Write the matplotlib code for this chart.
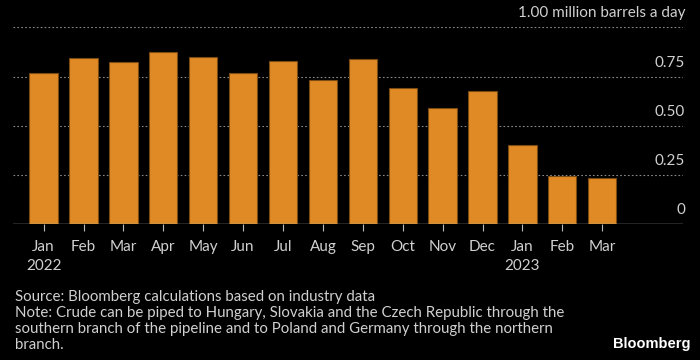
import matplotlib
matplotlib.use("Agg")
import matplotlib.pyplot as plt

months = ["Jan", "Feb", "Mar", "Apr", "May", "Jun", "Jul", "Aug", "Sep",
          "Oct", "Nov", "Dec", "Jan", "Feb", "Mar"]
years = {0: "2022", 12: "2023"}
flows = [0.766, 0.843, 0.824, 0.873, 0.848, 0.768, 0.829, 0.732, 0.838,
         0.690, 0.589, 0.678, 0.402, 0.245, 0.237]
yticks = [0, 0.25, 0.50, 0.75, 1.00]
ytick_labels = ["0", "0.25", "0.50", "0.75", "1.00"]

BG = "#000000"
BAR = "#E08A25"
EDGE = "#7a4a12"
TEXT = "#d0d0d0"
GRID = "#8a8a8a"

plt.rcParams["font.family"] = ["Lato", "DejaVu Sans"]

fig = plt.figure(figsize=(7, 3.6), dpi=100, facecolor=BG)
ax = fig.add_axes([0.019, 0.377, 0.957, 0.547], facecolor=BG)

x = range(len(months))
ax.bar(x, flows, width=0.71, color=BAR, edgecolor=EDGE, linewidth=0.8, zorder=3)

ax.set_xlim(-0.76, 16.03)
ax.set_ylim(0, 1.0)

for v in yticks[1:]:
    ax.axhline(v, color=GRID, linestyle=(0, (1.5, 2)), linewidth=0.8, zorder=1)
ax.axhline(0, color="#bbbbbb", linewidth=1.0, zorder=4)

for v, lab in zip(yticks, ytick_labels):
    if v == 1.0:
        lab = "1.00 million barrels a day"
    ax.text(1.003, v + 0.035, lab, transform=ax.get_yaxis_transform(),
            ha="right", va="bottom", color=TEXT, fontsize=11)

for s in ax.spines.values():
    s.set_visible(False)
ax.set_yticks([])
ax.set_xticks(list(x))
ax.set_xticklabels([m + ("\n" + years[i] if i in years else "") for i, m in enumerate(months)],
                   color=TEXT, fontsize=11, linespacing=1.45)
ax.tick_params(axis="x", colors="#bbbbbb", length=5, width=0.8, pad=6, labelcolor=TEXT)

fig.text(0.021, 0.195, "Source: Bloomberg calculations based on industry data\n"
         "Note: Crude can be piped to Hungary, Slovakia and the Czech Republic through the\n"
         "southern branch of the pipeline and to Poland and Germany through the northern\n"
         "branch.", color=TEXT, fontsize=10.8, va="top", ha="left", linespacing=1.2)
fig.text(0.986, 0.025, "Bloomberg", color="white", fontsize=10.5, fontweight="bold",
         ha="right", va="bottom", family=["Liberation Sans", "DejaVu Sans"])

fig.savefig("out.png", dpi=100, facecolor=BG)
